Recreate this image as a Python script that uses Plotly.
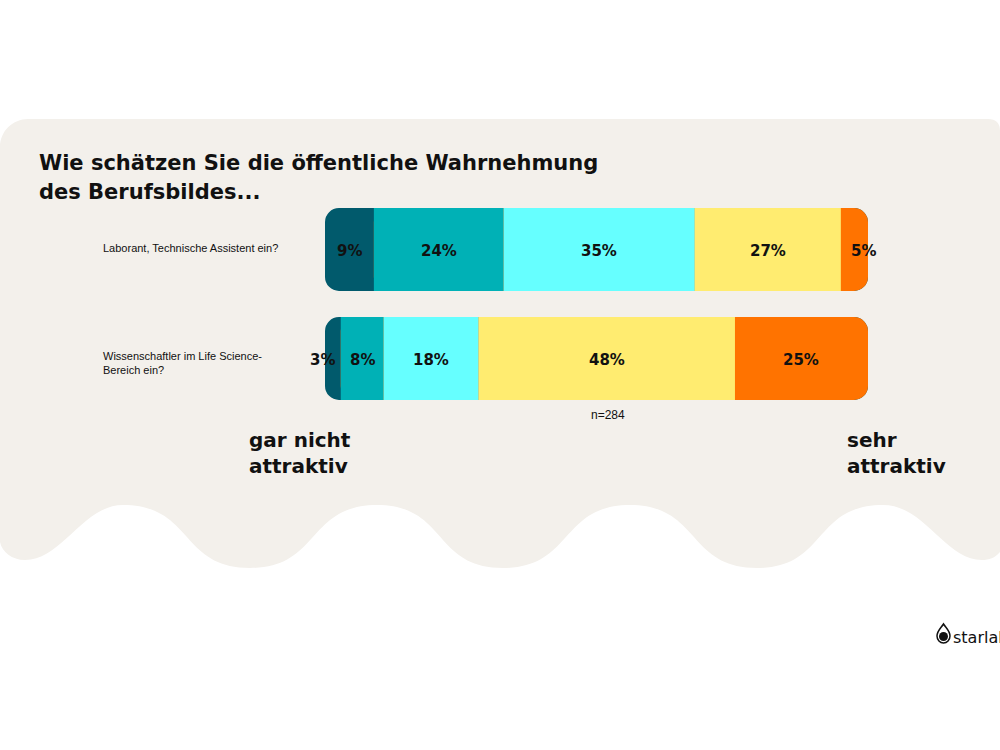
import plotly.graph_objects as go

# ---------------- data ----------------
categories = ["Laborant, Technische Assistent ein?",
              "Wissenschaftler im Life Science-Bereich ein?"]
category_labels = ["Laborant, Technische Assistent ein?",
                   "Wissenschaftler im Life Science-<br>Bereich ein?"]

seg1 = [9.0, 2.9]     # gar nicht attraktiv
seg2 = [23.9, 7.9]
seg3 = [35.2, 17.5]
seg4 = [26.9, 47.2]
seg5 = [5.0, 24.5]    # sehr attraktiv

seg1_text = ["9%", "3%"]
seg2_text = ["24%", "8%"]
seg3_text = ["35%", "18%"]
seg4_text = ["27%", "48%"]
seg5_text = ["5%", "25%"]

segments = [seg1, seg2, seg3, seg4, seg5]
segment_texts = [seg1_text, seg2_text, seg3_text, seg4_text, seg5_text]
colors = ["#015a6c", "#00b1b6", "#66ffff", "#ffec70", "#ff7300"]
# small pixel nudges for labels of very narrow segments (style only)
label_nudge = [[0, -10], [0, 0], [0, 0], [0, 0], [9, 0]]

title_lines = ["Wie schätzen Sie die öffentliche Wahrnehmung", "des Berufsbildes..."]
left_label = "gar nicht<br>attraktiv"
right_label = "sehr<br>attraktiv"
n_label = "n=284"

W, H = 1000, 750
BG = "#f3f0eb"
BOLD = "DejaVu Sans"
RADIUS = 14
BAR_W = 0.76


def px(x):
    return x / W


def py(y):
    return 1 - y / H


fig = go.Figure()

n_rows = len(categories)
starts = [[0.0] * n_rows for _ in segments]
for i in range(1, len(segments)):
    starts[i] = [starts[i - 1][k] + segments[i - 1][k] for k in range(n_rows)]
totals = [starts[-1][k] + segments[-1][k] for k in range(n_rows)]

common = dict(orientation="h", width=BAR_W, showlegend=False, hoverinfo="skip")

# rounded full-length bar in the first colour (gives the rounded left end)
fig.add_trace(go.Bar(y=categories, x=totals, base=[0] * n_rows,
                     marker=dict(color=colors[0], line=dict(width=0), cornerradius=RADIUS),
                     **common))
# rounded bar in the last colour from the end of segment 1 (gives the rounded right end)
fig.add_trace(go.Bar(y=categories, x=[t - s for t, s in zip(totals, seg1)], base=seg1,
                     marker=dict(color=colors[-1], line=dict(width=0), cornerradius=RADIUS),
                     **common))
# middle segments, square
for i in range(1, len(segments) - 1):
    fig.add_trace(go.Bar(y=categories, x=segments[i], base=starts[i],
                         marker=dict(color=colors[i], line=dict(width=0), cornerradius=0),
                         **common))

# percentage labels at segment centres
for i, (vals, txt) in enumerate(zip(segments, segment_texts)):
    for k in range(n_rows):
        fig.add_annotation(text=txt[k], xref="x", yref="y",
                           x=starts[i][k] + vals[k] / 2, y=categories[k],
                           xshift=label_nudge[i][k], yshift=-1,
                           showarrow=False, xanchor="center", yanchor="middle",
                           font=dict(family=BOLD, size=15, color="#111111", weight="bold"))

fig.update_layout(
    width=W, height=H,
    margin=dict(l=0, r=0, t=0, b=0),
    paper_bgcolor="white", plot_bgcolor="rgba(0,0,0,0)",
    barmode="overlay",
    xaxis=dict(domain=[0.325, 0.868], range=[0, 100], visible=False, fixedrange=True),
    yaxis=dict(domain=[py(413), py(195)], type="category",
               categoryorder="array", categoryarray=categories,
               range=[1.5, -0.5], visible=False, fixedrange=True),
)

# ---------------- background shape (rounded top, wavy bottom) ----------------
pts = [
    ("M", [(0, 147)]),
    ("C", [(0, 131), (13, 119), (28, 119)]),
    ("L", [(988, 119)]),
    ("Q", [(1000, 119), (1000, 131)]),
    ("L", [(1000, 552)]),
    ("C", [(995, 558), (989, 560), (982, 560)]),
    ("C", [(945, 560), (925, 505), (883, 505)]),
    ("C", [(813, 505), (827, 568), (757, 568)]),
    ("C", [(687, 568), (700, 505), (630, 505)]),
    ("C", [(560, 505), (573, 568), (503, 568)]),
    ("C", [(433, 568), (447, 505), (377, 505)]),
    ("C", [(307, 505), (320, 568), (250, 568)]),
    ("C", [(180, 568), (193, 505), (123, 505)]),
    ("C", [(83, 505), (62, 560), (25, 560)]),
    ("C", [(12, 560), (2, 552), (0, 542)]),
]
path = ""
for cmd, cs in pts:
    path += cmd + " " + " ".join(f"{px(x):.5f},{py(y):.5f}" for x, y in cs) + " "
path += "Z"
fig.add_shape(type="path", path=path, xref="paper", yref="paper",
              fillcolor=BG, line=dict(width=0), layer="below")

# logo icon (drop with dot)
drop = (f"M {px(943.5):.5f},{py(624):.5f} "
        f"C {px(946):.5f},{py(628):.5f} {px(950):.5f},{py(631):.5f} {px(950):.5f},{py(636):.5f} "
        f"C {px(950):.5f},{py(640):.5f} {px(947):.5f},{py(643):.5f} {px(943.5):.5f},{py(643):.5f} "
        f"C {px(940):.5f},{py(643):.5f} {px(937):.5f},{py(640):.5f} {px(937):.5f},{py(636):.5f} "
        f"C {px(937):.5f},{py(631):.5f} {px(941):.5f},{py(628):.5f} {px(943.5):.5f},{py(624):.5f} Z")
fig.add_shape(type="path", path=drop, xref="paper", yref="paper",
              fillcolor="white", line=dict(color="#111111", width=1.5))
fig.add_shape(type="circle", xref="paper", yref="paper",
              x0=px(939), x1=px(948), y0=py(641), y1=py(632),
              fillcolor="#111111", line=dict(width=0))

# ---------------- texts ----------------
for line, yy in zip(title_lines, [163, 192]):
    fig.add_annotation(text=line, xref="paper", yref="paper",
                       x=px(37), y=py(yy), xanchor="left", yanchor="middle",
                       showarrow=False,
                       font=dict(family=BOLD, size=21, color="#111111", weight="bold"))

for cat, lab, shift in zip(categories, category_labels, [2, -4]):
    fig.add_annotation(text=lab, xref="paper", yref="y", x=px(101), y=cat,
                       yshift=shift, xanchor="left", yanchor="middle", align="left",
                       showarrow=False,
                       font=dict(family="Liberation Sans", size=11, color="#111111"))

fig.add_annotation(text=n_label, xref="paper", yref="paper", x=px(608), y=py(415),
                   xanchor="center", yanchor="middle", showarrow=False,
                   font=dict(family="Liberation Sans", size=12, color="#111111"))

fig.add_annotation(text=left_label, xref="paper", yref="paper", x=px(247), y=py(453),
                   xanchor="left", yanchor="middle", align="left", showarrow=False,
                   font=dict(family=BOLD, size=20, color="#111111", weight="bold"))
fig.add_annotation(text=right_label, xref="paper", yref="paper", x=px(845), y=py(453),
                   xanchor="left", yanchor="middle", align="left", showarrow=False,
                   font=dict(family=BOLD, size=20, color="#111111", weight="bold"))

fig.add_annotation(text="starlab", xref="paper", yref="paper", x=px(951), y=py(637),
                   xanchor="left", yanchor="middle", showarrow=False,
                   font=dict(family="DejaVu Sans", size=16, color="#111111"))

fig.write_html("out.html")
